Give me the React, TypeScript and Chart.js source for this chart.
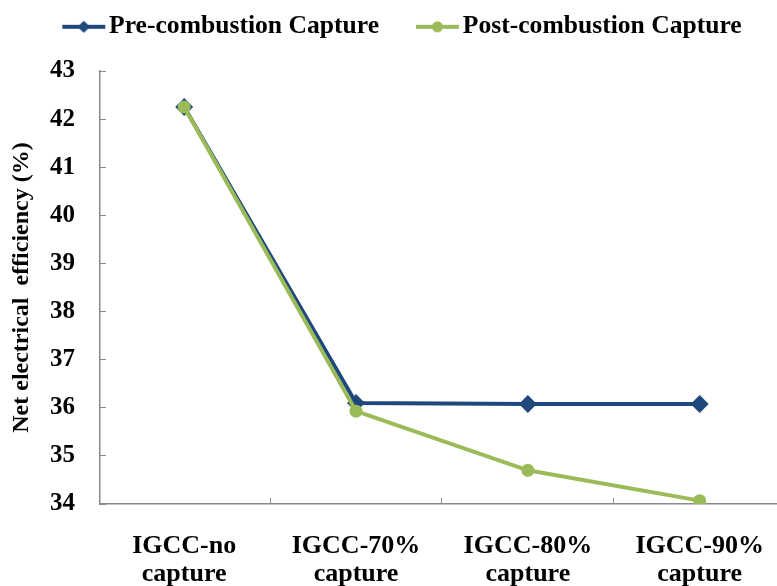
import React, { useEffect, useRef } from 'react';
import { Chart, registerables } from 'chart.js';

Chart.register(...registerables);

// ---- data ----
const categories: string[][] = [
  ['IGCC-no', 'capture'],
  ['IGCC-70%', 'capture'],
  ['IGCC-80%', 'capture'],
  ['IGCC-90%', 'capture'],
];
const seriesNames = ['Pre-combustion Capture', 'Post-combustion Capture'];
const preCombustion = [42.25, 36.1, 36.08, 36.08];
const postCombustion = [42.25, 35.93, 34.7, 34.07];
const yMin = 34;
const yMax = 43;
const yStep = 1;

const BLUE = '#1F497D';
const GREEN = '#9BBB59';
const AXIS = '#8A8A8A';
const FONT = "'Liberation Serif', 'Times New Roman', serif";

function legendSample(color: string, marker: 'diamond' | 'circle'): HTMLCanvasElement {
  const L = 37;
  const lineW = 43;
  const c = document.createElement('canvas');
  c.width = L + lineW + 1;
  c.height = 16;
  const g = c.getContext('2d')!;
  g.strokeStyle = color;
  g.lineWidth = 4;
  g.beginPath();
  g.moveTo(L, 8);
  g.lineTo(L + lineW, 8);
  g.stroke();
  g.fillStyle = color;
  const cx = L + lineW / 2;
  g.beginPath();
  if (marker === 'diamond') {
    g.moveTo(cx, 2);
    g.lineTo(cx + 6.5, 8);
    g.lineTo(cx, 14);
    g.lineTo(cx - 6.5, 8);
    g.closePath();
  } else {
    g.arc(cx, 8, 5.5, 0, Math.PI * 2);
  }
  g.fill();
  return c;
}

export default function App() {
  const ref = useRef<HTMLCanvasElement | null>(null);

  useEffect(() => {
    document.body.style.margin = '0';
    const canvas = ref.current;
    if (!canvas) return;
    const samples = [legendSample(BLUE, 'diamond'), legendSample(GREEN, 'circle')];

    const legendHeightPlugin = {
      id: 'legendHeight',
      beforeLayout(chart: any) {
        const lg = chart.legend;
        if (lg && !lg._patched) {
          const f = lg.fit.bind(lg);
          lg.fit = () => {
            f();
            lg.height = 67;
          };
          lg._patched = true;
        }
      },
    };

    const chart = new Chart(canvas, {
      type: 'line',
      data: {
        datasets: [
          {
            label: seriesNames[0],
            data: preCombustion.map((v, i) => ({ x: i + 0.5, y: v })),
            borderColor: BLUE,
            backgroundColor: BLUE,
            borderWidth: 4,
            pointStyle: 'rectRot',
            pointRadius: 9,
            pointBorderWidth: 0,
            pointBackgroundColor: BLUE,
            order: 1,
          },
          {
            label: seriesNames[1],
            data: postCombustion.map((v, i) => ({ x: i + 0.5, y: v })),
            borderColor: GREEN,
            backgroundColor: GREEN,
            borderWidth: 4,
            pointStyle: 'circle',
            pointRadius: 6.5,
            pointBorderWidth: 0,
            pointBackgroundColor: GREEN,
            order: 0,
          },
        ],
      },
      options: {
        responsive: false,
        animation: false,
        layout: { autoPadding: false, padding: { top: 4, left: 0, right: 0, bottom: 0 } },
        plugins: {
          tooltip: { enabled: false },
          legend: {
            position: 'top',
            labels: {
              usePointStyle: true,
              pointStyleWidth: 61,
              padding: 10,
              color: '#000',
              font: { family: FONT, size: 25.6, weight: 'bold' },
              generateLabels: () =>
                seriesNames.map((name, i) => ({
                  text: name,
                  datasetIndex: i,
                  pointStyle: samples[i] as any,
                  fillStyle: 'transparent',
                  strokeStyle: 'transparent',
                  lineWidth: 0,
                  hidden: false,
                  fontColor: '#000',
                })),
            },
          },
        },
        scales: {
          x: {
            type: 'linear',
            min: 0.01,
            max: 3.95,
            afterBuildTicks: (scale: any) => {
              const t: any[] = [];
              for (let i = 0; i < categories.length; i++) {
                t.push({ value: i + 0.5 });
                if (i < categories.length - 1) t.push({ value: i + 1 });
              }
              scale.ticks = t;
            },
            afterFit: (scale: any) => {
              scale.height = 82;
              scale.paddingLeft = 0;
              scale.paddingRight = 0;
            },
            border: { display: true, color: AXIS, width: 1.5 },
            grid: {
              drawOnChartArea: false,
              drawTicks: true,
              tickLength: -6,
              tickWidth: 1,
              tickColor: (ctx: any) =>
                ctx.tick && Number.isInteger(ctx.tick.value) ? AXIS : 'rgba(0,0,0,0)',
            },
            ticks: {
              autoSkip: false,
              maxRotation: 0,
              padding: 34,
              color: '#000',
              font: { family: FONT, size: 26, weight: 'bold', lineHeight: 1.08 },
              callback: (value: any) => {
                const v = Number(value);
                if (Number.isInteger(v)) return '';
                return categories[Math.round(v - 0.5)] ?? '';
              },
            },
          },
          y: {
            min: yMin,
            max: yMax,
            afterFit: (scale: any) => {
              scale.width = 100;
            },
            border: { display: true, color: AXIS, width: 1.5 },
            grid: {
              drawOnChartArea: false,
              drawTicks: true,
              tickLength: -6,
              tickWidth: 1,
              tickColor: AXIS,
            },
            ticks: {
              stepSize: yStep,
              padding: 31,
              color: '#000',
              font: { family: FONT, size: 25, weight: 'bold' },
            },
            title: {
              display: true,
              text: 'Net electrical  efficiency (%)',
              color: '#000',
              padding: { top: 7, bottom: 0 },
              font: { family: FONT, size: 24, weight: 'bold' },
            },
          },
        },
      },
      plugins: [legendHeightPlugin],
    } as any);

    return () => chart.destroy();
  }, []);

  return (
    <div style={{ width: 777, height: 586 }}>
      <canvas ref={ref} width={777} height={586} />
    </div>
  );
}
